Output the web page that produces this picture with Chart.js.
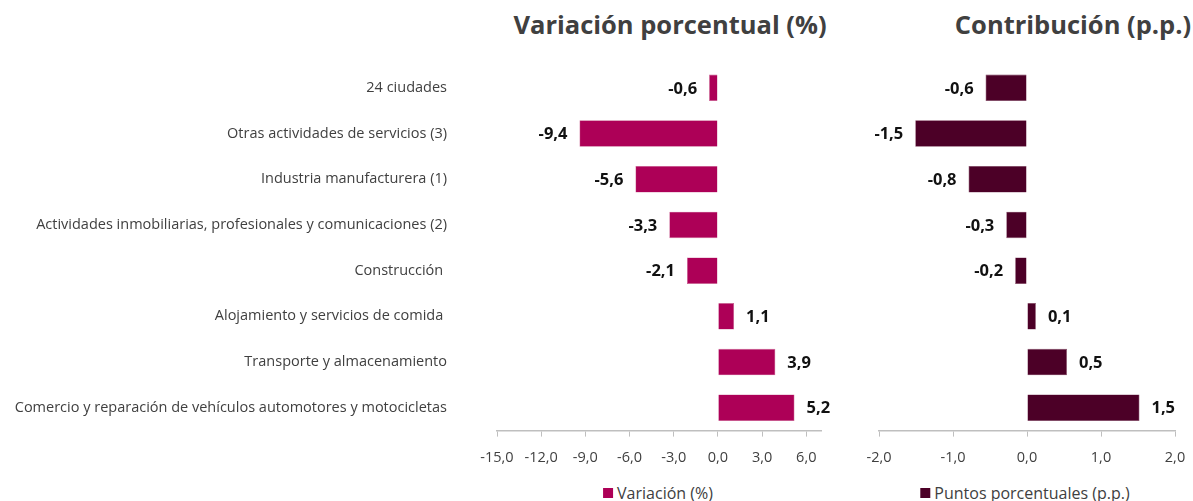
<!DOCTYPE html>
<html>
<head>
<meta charset="utf-8">
<script src="https://cdn.jsdelivr.net/npm/chart.js@4.4.1/dist/chart.umd.min.js"></script>
<style>
  html,body{margin:0;padding:0;background:#fff;}
  body{width:1193px;height:501px;position:relative;overflow:hidden;font-family:"Open Sans",sans-serif;}
  .title{position:absolute;top:7px;font-weight:bold;font-size:25.5px;color:#404040;white-space:nowrap;transform:translateX(-50%);}
  .legend{position:absolute;top:482px;font-size:16px;color:#404040;white-space:nowrap;transform:translateX(-50%);display:flex;align-items:center;}
  .legend span.sw{display:inline-block;width:10px;height:10px;margin-right:4px;}
  canvas{position:absolute;top:0;}
</style>
</head>
<body>
<div class="title" style="left:670px">Variación porcentual (%)</div>
<div class="title" style="left:1073px">Contribución (p.p.)</div>
<div class="legend" style="left:658px"><span class="sw" style="background:#AD0057"></span>Variación (%)</div>
<div class="legend" style="left:1025px"><span class="sw" style="background:#4C0027"></span>Puntos porcentuales (p.p.)</div>
<div style="position:absolute;left:0;top:0;width:845px;height:501px"><canvas id="c1"></canvas></div>
<div style="position:absolute;left:845px;top:0;width:348px;height:501px"><canvas id="c2"></canvas></div>
<script>
const categories = [
  "24 ciudades",
  "Otras actividades de servicios (3)",
  "Industria manufacturera (1)",
  "Actividades inmobiliarias, profesionales y comunicaciones (2)",
  "Construcción ",
  "Alojamiento y servicios de comida ",
  "Transporte y almacenamiento",
  "Comercio y reparación de vehículos automotores y motocicletas"
];
const variacion = [-0.6, -9.4, -5.6, -3.3, -2.1, 1.1, 3.9, 5.2];
const contribucion = [-0.56, -1.51, -0.79, -0.28, -0.16, 0.12, 0.54, 1.52];
const ticksVariacion = [-15, -12, -9, -6, -3, 0, 3, 6];
const ticksContribucion = [-2, -1, 0, 1, 2];

const fmt = v => v.toFixed(1).replace('.', ',');

const barLabels = {
  id: 'barLabels',
  afterDatasetsDraw(chart) {
    const ctx = chart.ctx;
    const meta = chart.getDatasetMeta(0);
    const data = chart.data.datasets[0].data;
    ctx.save();
    ctx.font = 'bold 16.5px "Open Sans", sans-serif';
    ctx.fillStyle = '#111111';
    ctx.textBaseline = 'middle';
    meta.data.forEach((bar, i) => {
      const v = data[i];
      const txt = fmt(v);
      if (v < 0) { ctx.textAlign = 'right'; ctx.fillText(txt, bar.x - 12, bar.y + 1); }
      else { ctx.textAlign = 'left'; ctx.fillText(txt, bar.x + 12, bar.y + 1); }
    });
    ctx.restore();
  }
};

function xScale(min, max, ticks, zeroPad) {
  return {
    min: min, max: max,
    afterBuildTicks: s => { s.ticks = ticks.map(v => ({value: v})); },
    afterFit: s => { if (zeroPad) { s.paddingLeft = 0; s.paddingRight = 0; } },
    grid: { drawOnChartArea: false, drawTicks: true, tickLength: 6, color: '#bfbfbf' },
    border: { display: true, color: '#bfbfbf', width: 1.5 },
    ticks: { callback: v => fmt(v), color: '#404040', font: { size: 14.5, family: '"Open Sans", sans-serif' }, padding: 13, maxRotation: 0 }
  };
}

Chart.defaults.animation = false;

new Chart(document.getElementById('c1'), {
  type: 'bar',
  data: { labels: categories, datasets: [{ data: variacion, backgroundColor: '#AD0057', borderColor: '#C8608F', borderWidth: 0.6, categoryPercentage: 1, barPercentage: 0.58 }] },
  plugins: [barLabels],
  options: {
    indexAxis: 'y', responsive: true, maintainAspectRatio: false,
    layout: { padding: { top: 65, right: 24, bottom: 21 } },
    plugins: { legend: { display: false }, tooltip: { enabled: false } },
    scales: {
      x: xScale(-15, 7, ticksVariacion, false),
      y: {
        grid: { display: false }, border: { display: false },
        afterFit: s => { s.width = 497; },
        ticks: { color: '#404040', font: { size: 14.5, family: '"Open Sans", sans-serif' }, padding: 42 }
      }
    }
  }
});

new Chart(document.getElementById('c2'), {
  type: 'bar',
  data: { labels: categories, datasets: [{ data: contribucion, backgroundColor: '#4C0027', borderColor: '#7a3a58', borderWidth: 0.6, categoryPercentage: 1, barPercentage: 0.58 }] },
  plugins: [barLabels],
  options: {
    indexAxis: 'y', responsive: true, maintainAspectRatio: false,
    layout: { padding: { top: 65, left: 34, right: 18, bottom: 21 } },
    plugins: { legend: { display: false }, tooltip: { enabled: false } },
    scales: {
      x: xScale(-2, 2, ticksContribucion, true),
      y: { display: false }
    }
  }
});
</script>
</body>
</html>
